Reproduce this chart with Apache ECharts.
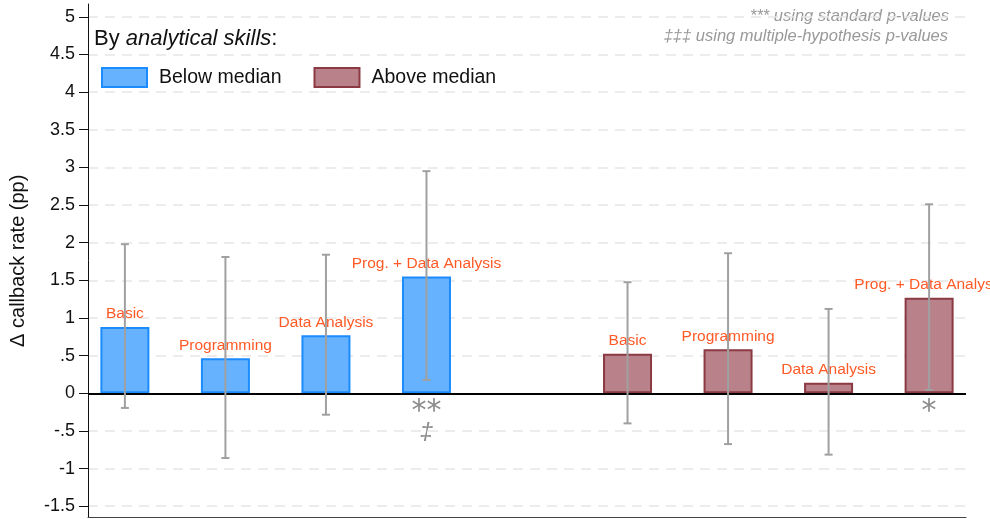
<!DOCTYPE html>
<html>
<head>
<meta charset="utf-8">
<script src="https://cdn.jsdelivr.net/npm/echarts@6/dist/echarts.min.js"></script>
<style>
  html, body { margin: 0; padding: 0; background: #fff; }
  #chart { width: 990px; height: 519px; }
</style>
</head>
<body>
<div id="chart"></div>
<script>
// Training-type categories, shown as labels above each bar
const categories = ['Basic', 'Programming', 'Data Analysis', 'Prog. + Data Analysis'];

// Horizontal slots for the two groups (slot 5 is left empty as a spacer)
const xBelow = [1, 2, 3, 4];
const xAbove = [6, 7, 8, 9];

// Point estimates (pp)
const belowValues = [0.88, 0.465, 0.77, 1.55];
const aboveValues = [0.525, 0.585, 0.14, 1.27];

// Confidence intervals
const belowLow = [-0.195, -0.86, -0.285, 0.177];
const belowHigh = [1.98, 1.81, 1.84, 2.95];
const aboveLow = [-0.40, -0.675, -0.815, 0.044];
const aboveHigh = [1.475, 1.86, 1.12, 2.51];

// Significance markers
const belowStars = ['', '', '', '**'];
const aboveStars = ['', '', '', '*'];
const belowDaggers = ['', '', '', '‡'];
const aboveDaggers = ['', '', '', ''];

// Y-axis tick values
const yTicks = [-1.5, -1, -0.5, 0, 0.5, 1, 1.5, 2, 2.5, 3, 3.5, 4, 4.5, 5];

const FONT = "'Liberation Sans', Arial, Helvetica, sans-serif";
const LABEL_COLOR = '#ff5a26';

function fmtTick(v) {
  let s = String(Math.round(v * 100) / 100);
  return s.replace(/^0\./, '.').replace(/^-0\./, '-.');
}

function barData(xs, vals) {
  return xs.map((x, i) => ({ value: [x, vals[i]], name: categories[i] }));
}

const errData = xBelow.map((x, i) => [x, belowLow[i], belowHigh[i]])
  .concat(xAbove.map((x, i) => [x, aboveLow[i], aboveHigh[i]]));
const sigStd = belowStars.concat(aboveStars);
const sigMh = belowDaggers.concat(aboveDaggers);
const sigData = xBelow.concat(xAbove).map(x => [x, 0]);

const chart = echarts.init(document.getElementById('chart'), null, { renderer: 'canvas' });

const option = {
  animation: false,
  backgroundColor: '#ffffff',
  textStyle: { fontFamily: FONT },
  grid: { left: 86, right: 24, top: 4, bottom: 1.5, containLabel: false },
  xAxis: {
    type: 'value',
    min: 0.633,
    max: 9.367,
    axisLine: { show: true, onZero: false, lineStyle: { color: '#444', width: 1 } },
    axisTick: { show: false },
    axisLabel: { show: false },
    splitLine: { show: false }
  },
  yAxis: {
    type: 'value',
    min: -1.65,
    max: 5.17,
    name: 'Δ callback rate (pp)',
    nameLocation: 'middle',
    nameGap: 60,
    nameTextStyle: { fontSize: 20, color: '#111', fontFamily: FONT },
    axisLine: { show: true, lineStyle: { color: '#111', width: 1 } },
    axisTick: { show: true, length: 9, customValues: yTicks, lineStyle: { color: '#111' } },
    axisLabel: {
      customValues: yTicks,
      margin: 13,
      fontSize: 18,
      color: '#111',
      fontFamily: FONT,
      formatter: fmtTick
    },
    splitLine: {
      show: true,
      lineStyle: { color: '#e6e6e6', width: 1.5, type: [10, 7] }
    }
  },
  legend: {
    left: 96,
    top: 62,
    itemWidth: 45,
    itemHeight: 19,
    itemGap: 32,
    icon: 'rect',
    textStyle: { fontSize: 19.5, color: '#111', fontFamily: FONT, padding: [0, 0, 0, 7] },
    data: ['Below median', 'Above median']
  },
  graphic: [
    {
      type: 'text',
      left: 94,
      top: 28,
      style: {
        text: '{a|By }{b|analytical skills}{a|:}',
        rich: {
          a: { fontSize: 22, fontFamily: FONT, fill: '#111' },
          b: { fontSize: 22, fontFamily: FONT, fill: '#111', fontStyle: 'italic' }
        }
      }
    },
    {
      type: 'text',
      right: 41,
      top: 8,
      style: {
        text: '*** using standard p-values',
        fontSize: 16.5, fontStyle: 'italic', fontFamily: FONT, fill: '#999', align: 'right'
      }
    },
    {
      type: 'text',
      right: 42,
      top: 28,
      style: {
        text: '‡‡‡ using multiple-hypothesis p-values',
        fontSize: 16.5, fontStyle: 'italic', fontFamily: FONT, fill: '#999', align: 'right'
      }
    }
  ],
  series: [
    {
      name: 'Below median',
      type: 'bar',
      barWidth: 49,
      barGap: '-100%',
      data: barData(xBelow, belowValues),
      itemStyle: { color: '#66b2ff', borderColor: '#1a8cff', borderWidth: 2 },
      label: {
        show: true, position: 'top', distance: 5,
        formatter: p => p.name, color: LABEL_COLOR, fontSize: 15.5, fontFamily: FONT
      },
      markLine: {
        silent: true,
        symbol: 'none',
        label: { show: false },
        lineStyle: { color: '#000', width: 2, type: 'solid' },
        data: [{ yAxis: 0 }],
        z: 3
      },
      z: 2
    },
    {
      name: 'Above median',
      type: 'bar',
      barWidth: 49,
      barGap: '-100%',
      data: barData(xAbove, aboveValues),
      itemStyle: { color: '#b9818a', borderColor: '#8b3a43', borderWidth: 2 },
      label: {
        show: true, position: 'top', distance: 5,
        formatter: p => p.name, color: LABEL_COLOR, fontSize: 15.5, fontFamily: FONT
      },
      z: 2
    },
    {
      name: 'CI',
      type: 'custom',
      z: 5,
      encode: { x: 0, y: [1, 2] },
      data: errData,
      renderItem: function (params, api) {
        const x = api.value(0);
        const lo = api.coord([x, api.value(1)]);
        const hi = api.coord([x, api.value(2)]);
        const cap = 4;
        const style = { stroke: '#a0a0a0', lineWidth: 2 };
        return {
          type: 'group',
          children: [
            { type: 'line', shape: { x1: lo[0], y1: lo[1], x2: hi[0], y2: hi[1] }, style },
            { type: 'line', shape: { x1: lo[0] - cap, y1: lo[1], x2: lo[0] + cap, y2: lo[1] }, style },
            { type: 'line', shape: { x1: hi[0] - cap, y1: hi[1], x2: hi[0] + cap, y2: hi[1] }, style }
          ]
        };
      }
    },
    {
      name: 'Significance',
      type: 'custom',
      z: 6,
      encode: { x: 0, y: 1 },
      data: sigData,
      renderItem: function (params, api) {
        const p = api.coord([api.value(0), api.value(1)]);
        const i = params.dataIndex;
        return {
          type: 'group',
          children: [
            {
              type: 'text',
              style: {
                text: sigStd[i], x: p[0], y: p[1] + 4,
                align: 'center', verticalAlign: 'top',
                fontSize: 30, fontFamily: "'DejaVu Sans', sans-serif", fill: '#8c8c8c'
              }
            },
            {
              type: 'text',
              style: {
                text: sigMh[i], x: p[0], y: p[1] + 28,
                align: 'center', verticalAlign: 'top',
                fontSize: 24, fontStyle: 'italic', fontFamily: FONT, fill: '#8c8c8c'
              }
            }
          ]
        };
      }
    }
  ]
};

chart.setOption(option);
</script>
</body>
</html>
